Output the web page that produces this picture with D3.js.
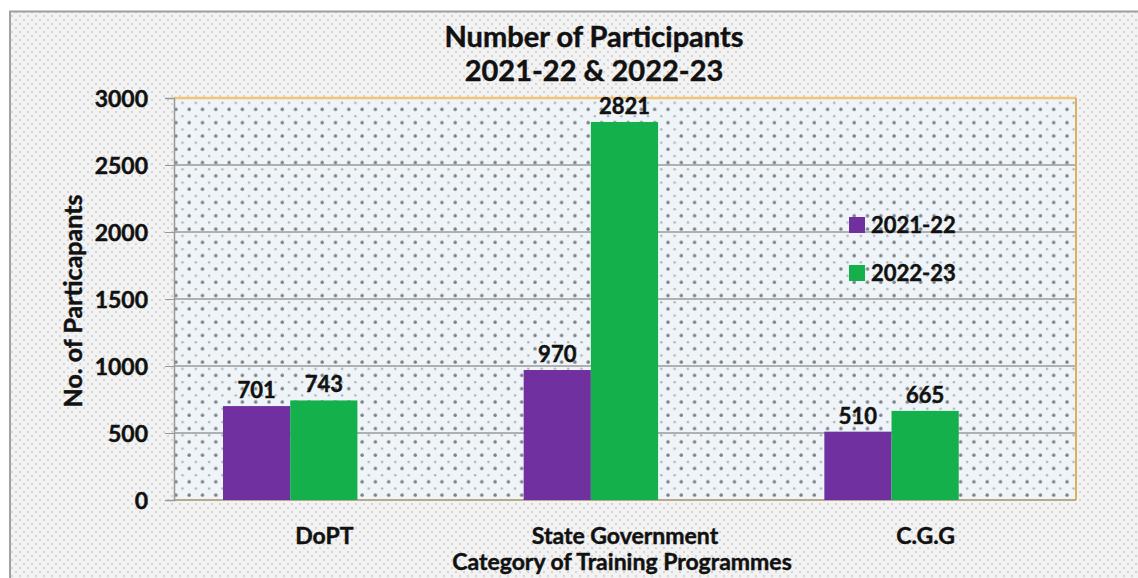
<!DOCTYPE html>
<html><head><meta charset="utf-8">
<script src="https://cdn.jsdelivr.net/npm/d3@7"></script>
<style>body{margin:0;background:#fff}svg{display:block}text{font-family:Lato,"Open Sans",sans-serif;font-weight:bold;fill:#111;stroke:#111;stroke-width:0.45px}</style>
</head><body><svg id="c" width="1138" height="578"></svg>
<script>
const categories = ["DoPT", "State Government", "C.G.G"];
const seriesNames = ["2021-22", "2022-23"];
const values2021 = [701, 970, 510];
const values2022 = [743, 2821, 665];
const yTicks = [0, 500, 1000, 1500, 2000, 2500, 3000];
const seriesColors = ["#7030A0", "#13B04B"];
const titleLines = ["Number of Participants", "2021-22 & 2022-23"];
const yTitle = "No. of Particapants";
const xTitle = "Category of Training Programmes";

const svg = d3.select("#c");
const defs = svg.append("defs");
const p1 = defs.append("pattern").attr("id","outer").attr("width",8).attr("height",8).attr("patternUnits","userSpaceOnUse");
p1.append("rect").attr("width",8).attr("height",8).attr("fill","#d4d4d4");
[[4,4],[0,0],[8,0],[0,8],[8,8]].forEach(([cx,cy])=>p1.append("circle").attr("cx",cx).attr("cy",cy).attr("r",3.1).attr("fill","#f3f3f3"));
const p2 = defs.append("pattern").attr("id","inner").attr("width",13.3).attr("height",13.3).attr("patternUnits","userSpaceOnUse");
p2.append("rect").attr("width",13.3).attr("height",13.3).attr("fill","#eef4f7");
p2.append("circle").attr("cx",3).attr("cy",3).attr("r",1.7).attr("fill","#7a8185");
p2.append("circle").attr("cx",9.65).attr("cy",9.65).attr("r",1.2).attr("fill","#aab1b5");

const W = 1138, H = 578;
svg.append("rect").attr("width",W).attr("height",H).attr("fill","#fff");
svg.append("rect").attr("x",10).attr("y",11).attr("width",W-10).attr("height",H-11).attr("fill","url(#outer)");
svg.append("path").attr("d",`M10,${H} V11.5 H${W}`).attr("fill","none").attr("stroke","#a0a0a0").attr("stroke-width",2);

const plot = {left:174, right:1076, top:98, bottom:500};
svg.append("rect").attr("x",plot.left).attr("y",plot.top).attr("width",plot.right-plot.left).attr("height",plot.bottom-plot.top).attr("fill","url(#inner)");

const y = d3.scaleLinear().domain([0,3000]).range([plot.bottom, plot.top]);
const x0 = d3.scaleBand().domain(categories).range([plot.left, plot.right]).padding(0);
const step = x0.bandwidth();
const x1 = d3.scaleBand().domain(seriesNames).range([step*0.163, step*0.61]).padding(0);

svg.append("g").selectAll("line").data(yTicks.slice(1)).join("line")
  .attr("x1",plot.left).attr("x2",plot.right).attr("y1",d=>y(d)).attr("y2",d=>y(d))
  .attr("stroke","#9a9a9a").attr("stroke-width",1.3);

svg.append("line").attr("x1",plot.left).attr("x2",plot.right).attr("y1",plot.top).attr("y2",plot.top).attr("stroke","#f3c37c").attr("stroke-width",2.5);
svg.append("line").attr("x1",plot.right).attr("x2",plot.right).attr("y1",plot.top).attr("y2",plot.bottom).attr("stroke","#dcb05e").attr("stroke-width",2);
svg.append("line").attr("x1",plot.left).attr("x2",plot.right).attr("y1",plot.bottom).attr("y2",plot.bottom).attr("stroke","#b8aa8a").attr("stroke-width",2);

const yAxis = d3.axisLeft(y).tickValues(yTicks).tickSize(9).tickPadding(17).tickFormat(d3.format("d"));
const ga = svg.append("g").attr("transform",`translate(${plot.left},0)`).call(yAxis);
ga.select(".domain").attr("stroke","#999").attr("stroke-width",1.5);
ga.selectAll(".tick line").attr("stroke","#999");
ga.selectAll(".tick text").style("font-size","23px").style("font-family","Lato").style("font-weight","bold").attr("fill","#111").attr("dy","0.36em");

const gx = svg.append("g").attr("transform",`translate(0,${plot.bottom})`).call(d3.axisBottom(x0).tickSize(0).tickPadding(28));
gx.select(".domain").remove();
gx.selectAll(".tick text").style("font-size","23px").style("font-family","Lato").style("font-weight","bold").attr("fill","#111");

const rows = categories.map((c,i)=>({cat:c, vals:[values2021[i], values2022[i]]}));
const groups = svg.append("g").selectAll("g").data(rows).join("g").attr("transform",d=>`translate(${x0(d.cat)},0)`);
groups.selectAll("rect").data(d=>d.vals.map((v,j)=>({s:seriesNames[j], v, j}))).join("rect")
  .attr("x",d=>x1(d.s)).attr("width",x1.bandwidth()).attr("y",d=>y(d.v)).attr("height",d=>y(0)-y(d.v))
  .attr("fill",d=>seriesColors[d.j]);
groups.selectAll("text").data(d=>d.vals.map((v,j)=>({s:seriesNames[j], v, j}))).join("text")
  .attr("x",d=>x1(d.s)+x1.bandwidth()/2).attr("y",d=>y(d.v)-8).attr("text-anchor","middle")
  .style("font-size","22px").text(d=>d.v);

const lg = svg.append("g").attr("transform","translate(849,217)");
seriesNames.forEach((s,i)=>{
  lg.append("rect").attr("x",0).attr("y",i*48).attr("width",16).attr("height",16).attr("fill",seriesColors[i]);
  lg.append("text").attr("x",22).attr("y",i*48+16).style("font-size","22px").text(s);
});

svg.append("text").attr("x",594).attr("y",47).attr("text-anchor","middle").style("font-size","29px").text(titleLines[0]);
svg.append("text").attr("x",594).attr("y",81).attr("text-anchor","middle").style("font-size","29px").text(titleLines[1]);
svg.append("text").attr("transform","translate(82,301) rotate(-90)").attr("text-anchor","middle").style("font-size","25px").text(yTitle);
svg.append("text").attr("x",622).attr("y",570).attr("text-anchor","middle").style("font-size","23px").text(xTitle);
</script></body></html>
